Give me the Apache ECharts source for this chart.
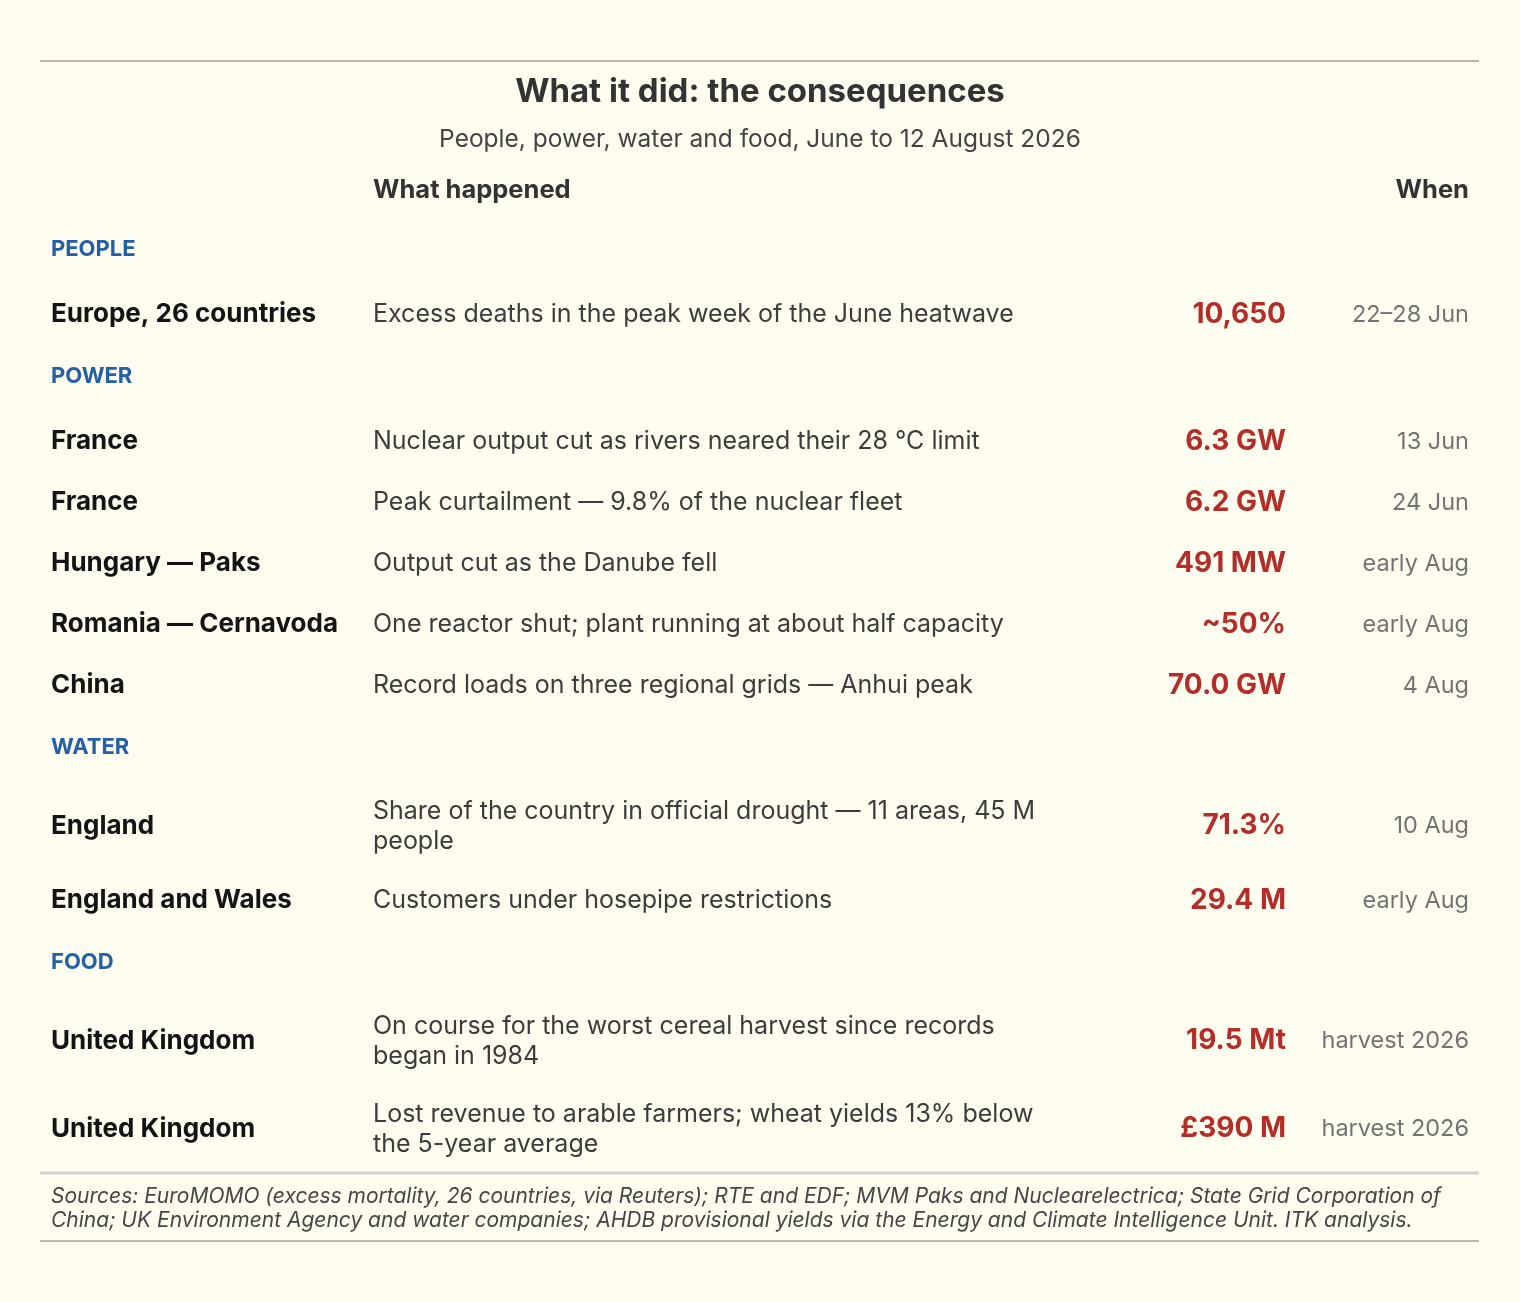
<!DOCTYPE html>
<html>
<head>
<meta charset="utf-8">
<title>What it did: the consequences</title>
<script src="https://cdn.jsdelivr.net/npm/echarts@6/dist/echarts.min.js"></script>
<style>
  html, body { margin: 0; padding: 0; background: #fffdf0; }
  #chart { width: 1520px; height: 1302px; }
</style>
</head>
<body>
<div id="chart"></div>
<script>
// table content
const sections = ["PEOPLE", "POWER", "WATER", "FOOD"]
const rowSection = [0, 1, 1, 1, 1, 1, 2, 2, 3, 3]
const places = [
  "Europe, 26 countries",
  "France",
  "France",
  "Hungary — Paks",
  "Romania — Cernavoda",
  "China",
  "England",
  "England and Wales",
  "United Kingdom",
  "United Kingdom",
]
const descriptions = [
  "Excess deaths in the peak week of the June heatwave",
  "Nuclear output cut as rivers neared their 28 °C limit",
  "Peak curtailment — 9.8% of the nuclear fleet",
  "Output cut as the Danube fell",
  "One reactor shut; plant running at about half capacity",
  "Record loads on three regional grids — Anhui peak",
  "Share of the country in official drought — 11 areas, 45 M\npeople",
  "Customers under hosepipe restrictions",
  "On course for the worst cereal harvest since records\nbegan in 1984",
  "Lost revenue to arable farmers; wheat yields 13% below\nthe 5-year average",
]
const values = ["10,650", "6.3 GW", "6.2 GW", "491 MW", "~50%", "70.0 GW", "71.3%", "29.4 M", "19.5 Mt", "£390 M"]
const whens = ["22–28 Jun", "13 Jun", "24 Jun", "early Aug", "early Aug", "4 Aug", "10 Aug", "early Aug", "harvest 2026", "harvest 2026"]
const columnHeads = ["What happened", "When"]

const titleText = "What it did: the consequences"
const subtitleText = "People, power, water and food, June to 12 August 2026"
const sourcesText =
  "Sources: EuroMOMO (excess mortality, 26 countries, via Reuters); RTE and EDF; MVM Paks and Nuclearelectrica; State Grid Corporation of\n" +
  "China; UK Environment Agency and water companies; AHDB provisional yields via the Energy and Climate Intelligence Unit. ITK analysis."

const FONT = "Inter, 'Noto Sans', 'DejaVu Sans', sans-serif"
const W = 1520
const H = 1302

// layout: column anchors and row heights
const colPlace = 51
const colDesc = 373
const colValue = 1286
const colWhen = 1469
const sectionH = 66
const rowH = 61
const extraLine = 27
const tableTop = 218

// walk rows, inserting a section line wherever the section changes
let items = []
let cursor = tableTop
let lastSection = -1
places.forEach((p, i) => {
  if (rowSection[i] !== lastSection) {
    lastSection = rowSection[i]
    items.push([0, cursor + sectionH / 2 - 2, -1 - lastSection])
    cursor += sectionH
  }
  const lines = descriptions[i].split("\n").length
  const h = rowH + extraLine * (lines - 1)
  items.push([0, cursor + h / 2, i])
  cursor += h
})
const tableBottom = cursor

const renderRow = (params, api) => {
  const idx = api.value(2)
  const y = api.coord([0, api.value(1)])[1]
  const x = px => api.coord([px, 0])[0]
  if (idx < 0) {
    return {
      type: "text",
      style: {
        text: sections[-1 - idx],
        x: x(colPlace),
        y: y,
        fill: "#2360a8",
        font: `bold 22px ${FONT}`,
        align: "left",
        verticalAlign: "middle",
      },
    }
  }
  return {
    type: "group",
    children: [
      {
        type: "text",
        style: {
          text: places[idx], x: x(colPlace), y: y, fill: "#141414",
          font: `bold 26px ${FONT}`, align: "left", verticalAlign: "middle",
        },
      },
      {
        type: "text",
        style: {
          text: descriptions[idx], x: x(colDesc), y: y, fill: "#3c3c3c",
          font: `25px ${FONT}`, lineHeight: 30, align: "left", verticalAlign: "middle",
        },
      },
      {
        type: "text",
        style: {
          text: values[idx], x: x(colValue), y: y, fill: "#b32d29",
          font: `bold 28px ${FONT}`, align: "right", verticalAlign: "middle",
        },
      },
      {
        type: "text",
        style: {
          text: whens[idx], x: x(colWhen), y: y, fill: "#737373",
          font: `23.5px ${FONT}`, align: "right", verticalAlign: "middle",
        },
      },
    ],
  }
}

const option = {
  backgroundColor: "#fffdf0",
  animation: false,
  textStyle: { fontFamily: FONT },
  grid: { left: 0, right: 0, top: 0, bottom: 0 },
  xAxis: { type: "value", min: 0, max: W, show: false },
  yAxis: { type: "value", min: 0, max: H, inverse: true, show: false },
  graphic: [
    { type: "line", shape: { x1: 40, y1: 61, x2: 1479, y2: 61 }, style: { stroke: "#bbb8ab", lineWidth: 2 } },
    {
      type: "text", x: W / 2, y: 92,
      style: { text: titleText, fill: "#333333", font: `bold 33px ${FONT}`, align: "center", verticalAlign: "middle" },
    },
    {
      type: "text", x: W / 2, y: 140,
      style: { text: subtitleText, fill: "#444444", font: `24.5px ${FONT}`, align: "center", verticalAlign: "middle" },
    },
    {
      type: "text", x: colDesc, y: 190,
      style: { text: columnHeads[0], fill: "#333333", font: `bold 25.5px ${FONT}`, align: "left", verticalAlign: "middle" },
    },
    {
      type: "text", x: colWhen, y: 190,
      style: { text: columnHeads[1], fill: "#333333", font: `bold 25.5px ${FONT}`, align: "right", verticalAlign: "middle" },
    },
    { type: "line", shape: { x1: 40, y1: tableBottom, x2: 1479, y2: tableBottom }, style: { stroke: "#d2d2d0", lineWidth: 3 } },
    {
      type: "text", x: colPlace, y: 1209,
      style: {
        text: sourcesText, fill: "#454545", font: `italic 21px ${FONT}`, lineHeight: 24,
        align: "left", verticalAlign: "middle",
      },
    },
    { type: "line", shape: { x1: 40, y1: 1241, x2: 1479, y2: 1241 }, style: { stroke: "#bbb8ab", lineWidth: 2 } },
  ],
  series: [
    {
      type: "custom",
      renderItem: renderRow,
      data: items,
      silent: true,
    },
  ],
}

const chart = echarts.init(document.getElementById("chart"))
chart.setOption(option)
window.addEventListener("resize", () => chart.resize())
</script>
</body>
</html>
